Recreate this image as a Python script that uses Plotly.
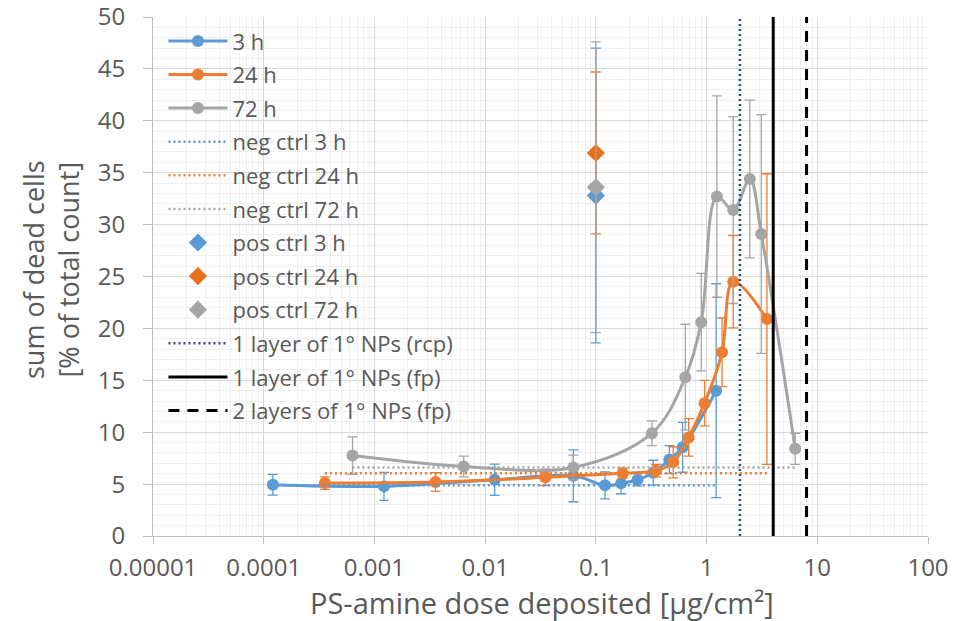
import plotly.graph_objects as go

# ---------------- data ----------------
dose_3h = [0.000121, 0.00122, 0.0122, 0.0626, 0.121, 0.169, 0.238, 0.33, 0.461, 0.607, 1.22]
dead_3h = [4.94, 4.78, 5.42, 5.8, 4.88, 5.07, 5.42, 6.1, 7.35, 8.54, 14.0]
err_3h = [1.0, 1.35, 1.5, 2.5, 1.3, 1.0, 0.6, 1.2, 1.35, 2.4, 10.3]

dose_24h = [0.000357, 0.00356, 0.035, 0.1746, 0.349, 0.50, 0.689, 0.96, 1.38, 1.74, 3.51]
dead_24h = [5.1, 5.2, 5.65, 6.05, 6.3, 7.1, 9.5, 12.8, 17.7, 24.5, 20.9]
err_24h = [0.6, 0.9, 0.8, 0.5, 0.6, 1.5, 1.8, 2.2, 3.3, 4.45, 14.0]

dose_72h = [0.000634, 0.00641, 0.0626, 0.321, 0.643, 0.895, 1.24, 1.74, 2.46, 3.12, 6.32]
dead_72h = [7.75, 6.7, 6.6, 9.9, 15.3, 20.6, 32.7, 31.4, 34.4, 29.1, 8.4]
err_72h = [1.8, 1.0, 1.2, 1.2, 5.1, 4.7, 9.7, 9.0, 7.6, 11.5, 1.5]

neg_ctrl_value = {"3 h": 4.9, "24 h": 6.05, "72 h": 6.6}
neg_ctrl_span = {"3 h": [0.000121, 1.22], "24 h": [0.000357, 3.51], "72 h": [0.000634, 6.32]}

pos_ctrl_dose = 0.1
pos_ctrl_value = {"3 h": 32.8, "24 h": 36.9, "72 h": 33.6}
pos_ctrl_err = {"3 h": 14.2, "24 h": 7.8, "72 h": 14.0}

layer_names = ["1 layer of 1° NPs (rcp)", "1 layer of 1° NPs (fp)", "2 layers of 1° NPs (fp)"]
layer_doses = [2.0, 4.0, 8.0]

y_range = [0, 50]
x_tickvals = [1e-5, 1e-4, 1e-3, 1e-2, 1e-1, 1, 10, 100]
x_ticktext = ["0.00001", "0.0001", "0.001", "0.01", "0.1", "1", "10", "100"]

x_title = "PS-amine dose deposited [μg/cm²]"
y_title = "sum of dead cells<br>[% of total count]"

# ---------------- style ----------------
BLUE = "#5B9BD5"
ORANGE = "#ED7D31"
GRAY = "#A5A5A5"
NAVY = "#2E4A86"
TXT = "#595959"
FONT = "Open Sans"

colors = {"3 h": BLUE, "24 h": ORANGE, "72 h": GRAY}
series = {
    "3 h": (dose_3h, dead_3h, err_3h),
    "24 h": (dose_24h, dead_24h, err_24h),
    "72 h": (dose_72h, dead_72h, err_72h),
}

fig = go.Figure()
gi = 0

def grp():
    global gi
    gi += 1
    return "g%d" % gi

rank = {"3 h": 1, "24 h": 2, "72 h": 3}
for k, (xs, ys, es) in series.items():
    fig.add_trace(go.Scatter(
        x=xs, y=ys, name=k, mode="lines+markers",
        line=dict(color=colors[k], width=3, shape="spline", smoothing=1.0),
        marker=dict(color=colors[k], size=12, symbol="circle"),
        error_y=dict(type="data", array=es, color=colors[k], thickness=1.3, width=5),
        legendgroup=grp(), legendrank=rank[k],
    ))

for i, k in enumerate(["3 h", "24 h", "72 h"]):
    fig.add_trace(go.Scatter(
        x=neg_ctrl_span[k], y=[neg_ctrl_value[k]] * 2, name="neg ctrl " + k, mode="lines",
        line=dict(color=colors[k], width=2.5, dash="2px,3px"),
        legendgroup=grp(), legendrank=4 + i,
    ))

for i, k in enumerate(["3 h", "24 h", "72 h"]):
    fig.add_trace(go.Scatter(
        x=[pos_ctrl_dose], y=[pos_ctrl_value[k]], name="pos ctrl " + k, mode="markers",
        marker=dict(color=colors[k] if k != "24 h" else "#E8701A", size=14, symbol="diamond"),
        error_y=dict(type="data", array=[pos_ctrl_err[k]], color=colors[k], thickness=1.3, width=5),
        legendgroup=grp(), legendrank=7 + i,
    ))

layer_styles = [
    dict(color=NAVY, width=2.5, dash="2px,3px"),
    dict(color="#000000", width=3),
    dict(color="#000000", width=3, dash="11px,8px"),
]
for i, (nm, d) in enumerate(zip(layer_names, layer_doses)):
    fig.add_trace(go.Scatter(
        x=[d, d], y=y_range, name=nm, mode="lines",
        line=layer_styles[i], legendgroup=grp(), legendrank=10 + i,
    ))

fig.update_layout(
    width=963, height=621,
    margin=dict(l=153, r=35, t=17, b=85, autoexpand=False),
    paper_bgcolor="white", plot_bgcolor="white",
    font=dict(family=FONT, color=TXT, size=22),
    showlegend=True,
    legend=dict(
        x=0.0135, y=0.994, xanchor="left", yanchor="top",
        bgcolor="rgba(0,0,0,0)", font=dict(size=22, color=TXT, family=FONT),
        traceorder="grouped", tracegroupgap=2, itemwidth=59,
    ),
    xaxis=dict(
        type="log", range=[-5, 2], automargin=False,
        tickvals=x_tickvals, ticktext=x_ticktext,
        showgrid=True, gridcolor="#D9D9D9", gridwidth=1,
        minor=dict(dtick="D1", showgrid=True, gridcolor="#EFEFEF", gridwidth=1),
        ticks="outside", ticklen=7, tickcolor="#BFBFBF",
        showline=True, linecolor="#BFBFBF", linewidth=1,
        tickfont=dict(size=24, color=TXT, family=FONT),
        ticklabelstandoff=3, ticklabeloverflow="allow",
        zeroline=False,
    ),
    yaxis=dict(
        range=y_range, dtick=5, tick0=0, automargin=False,
        showgrid=True, gridcolor="#D9D9D9", gridwidth=1,
        minor=dict(dtick=1, showgrid=True, gridcolor="#EFEFEF", gridwidth=1),
        ticks="outside", ticklen=9, tickcolor="#BFBFBF",
        showline=True, linecolor="#BFBFBF", linewidth=1,
        tickfont=dict(size=24, color=TXT, family=FONT),
        ticklabelstandoff=13, ticklabeloverflow="allow",
        zeroline=False,
    ),
    annotations=[
        dict(text=x_title, xref="paper", yref="paper", x=0.502, y=-0.129,
             xanchor="center", yanchor="middle", showarrow=False,
             font=dict(size=29, color=TXT, family=FONT)),
        dict(text=y_title, xref="paper", yref="paper", x=-0.1316, y=0.5125,
             xanchor="center", yanchor="middle", showarrow=False, textangle=-90,
             font=dict(size=27, color=TXT, family=FONT)),
    ],
)

fig.write_html("out.html", config={"displayModeBar": False},
               post_script="document.body.style.margin='0px';")
